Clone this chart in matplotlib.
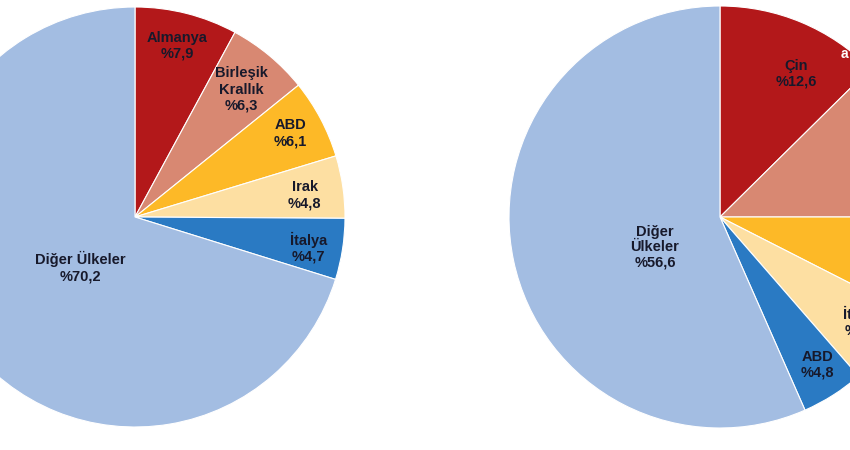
import numpy as np
import matplotlib
matplotlib.use("Agg")
import matplotlib.pyplot as plt

plt.rcParams['font.family'] = ['Liberation Sans', 'DejaVu Sans']

# ihracat (sol) ve ithalat (sag) ulke paylari, %
exp_labels = ["Almanya", "Birleşik\nKrallık", "ABD", "Irak", "İtalya", "Diğer Ülkeler"]
exp_values = [7.9, 6.3, 6.1, 4.8, 4.7, 70.2]

imp_labels = ["Çin", "Rusya", "Almanya", "İtalya", "ABD", "Diğer\nÜlkeler"]
imp_values = [12.6, 12.4, 7.5, 6.1, 4.8, 56.6]

colors = ["#B3181A", "#D88872", "#FDB927", "#FDDFA2", "#2A7AC3", "#A3BDE2"]
text_col = "#17192b"

fig = plt.figure(figsize=(8.5, 4.5), dpi=100)
ax = fig.add_axes([0, 0, 1, 1])


def draw_pie(values, labels, cx, cy, r, rfac, dang, other_offset, lsp):
    wedges, _ = ax.pie(values, colors=colors, startangle=90, counterclock=False,
                       center=(cx, cy), radius=r, frame=True,
                       wedgeprops=dict(edgecolor="white", linewidth=0.8))
    for i, (w, lab, v) in enumerate(zip(wedges, labels, values)):
        txt = lab + "\n%" + ("%.1f" % v).replace(".", ",")
        if i == len(wedges) - 1:
            x, y = cx + other_offset[0], cy + other_offset[1]
        else:
            ang = np.deg2rad((w.theta1 + w.theta2) / 2 + dang[i])
            x = cx + rfac[i] * r * np.cos(ang)
            y = cy + rfac[i] * r * np.sin(ang)
        ax.text(x, y, txt, ha="center", va="center", fontsize=10.5,
                fontweight="bold", color=text_col, linespacing=lsp)


draw_pie(exp_values, exp_labels, 135, 233, 210,
         [0.84, 0.79, 0.84, 0.815, 0.84], [0.5, 0, 0.4, -0.9, -1.2],
         (-55, -50), 1.2)
draw_pie(imp_values, imp_labels, 720, 233, 211,
         [0.77, 0.84, 0.84, 0.835, 0.84], [-5.4, 0, 0, 1.5, 1.1],
         (-65, -30), 1.1)

ax.set_xlim(0, 850)
ax.set_ylim(0, 450)
ax.set_aspect("equal")
ax.axis("off")

# kaynak logosu
ax.text(844, 396, "a", color="white", fontsize=10, fontweight="bold",
        ha="center", va="center")

fig.savefig("out.png", dpi=100)
